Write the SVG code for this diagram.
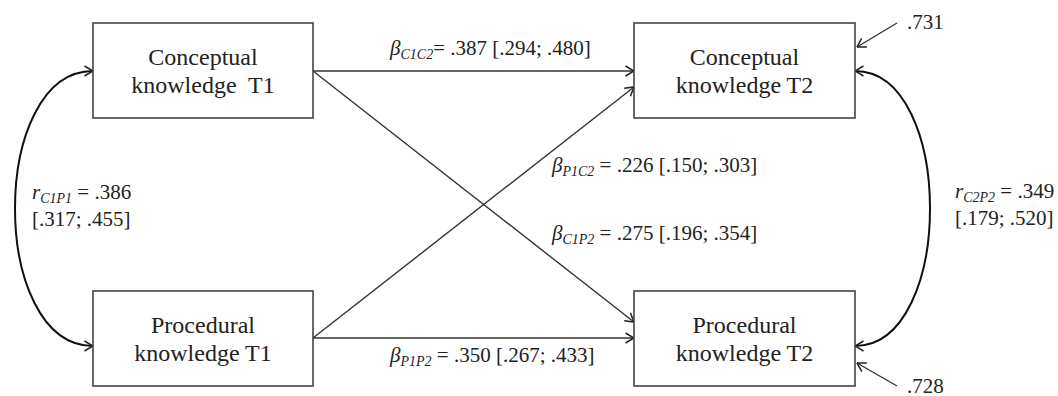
<svg xmlns="http://www.w3.org/2000/svg" width="1058" height="396" viewBox="0 0 1058 396">
  <defs>
    <marker id="arrow" viewBox="0 0 10 12" refX="9.5" refY="6" markerWidth="10" markerHeight="12" markerUnits="userSpaceOnUse" orient="auto-start-reverse">
      <path d="M1,1 L9.5,6 L1,11" fill="none" stroke="#222" stroke-width="1.5"/>
    </marker>
    <style>
      .box { fill: #fff; stroke: #444; stroke-width: 1.6; }
      .node-text { font-family: "Liberation Serif", "Times New Roman", serif; font-size: 24px; fill: #222; text-anchor: middle; }
      .label { font-family: "Liberation Serif", "Times New Roman", serif; font-size: 21px; fill: #222; }
      .it { font-style: italic; }
      .sub { font-style: italic; font-size: 14px; }
      .path { fill: none; stroke: #333; stroke-width: 1.4; marker-end: url(#arrow); }
      .cov { fill: none; stroke: #111; stroke-width: 2; marker-start: url(#arrow); marker-end: url(#arrow); }
    </style>
  </defs>

  <!-- structural paths and correlations -->
  <g id="connectors">
    <line class="path" x1="313" y1="71" x2="634" y2="71"/>
    <line class="path" x1="313" y1="71" x2="634" y2="322"/>
    <line class="path" x1="313" y1="338" x2="634" y2="87"/>
    <line class="path" x1="313" y1="338" x2="634" y2="338"/>
    <path class="cov" d="M93,71 C-11,71 -11,346 93,346"/>
    <path class="cov" d="M855,71 C955,71 955,346 855,346"/>
    <line class="path" x1="897" y1="23" x2="857" y2="47"/>
    <line class="path" x1="897" y1="386" x2="857" y2="363"/>
  </g>

  <g id="node-c1">
    <rect class="box" x="93" y="23" width="220" height="95"/>
    <text class="node-text" x="203" y="65">Conceptual</text>
    <text class="node-text" x="203" y="93" xml:space="preserve">knowledge  T1</text>
  </g>
  <g id="node-c2">
    <rect class="box" x="634" y="23" width="221" height="95"/>
    <text class="node-text" x="744.5" y="65">Conceptual</text>
    <text class="node-text" x="744.5" y="93">knowledge T2</text>
  </g>
  <g id="node-p1">
    <rect class="box" x="93" y="291" width="220" height="95"/>
    <text class="node-text" x="203" y="333">Procedural</text>
    <text class="node-text" x="203" y="361">knowledge T1</text>
  </g>
  <g id="node-p2">
    <rect class="box" x="634" y="291" width="221" height="95"/>
    <text class="node-text" x="744.5" y="333">Procedural</text>
    <text class="node-text" x="744.5" y="361">knowledge T2</text>
  </g>

  <!-- coefficient labels -->
  <g id="labels">
    <text class="label" x="390" y="55"><tspan class="it">β</tspan><tspan class="sub" dy="4">C1C2</tspan><tspan dy="-4">= .387 [.294; .480]</tspan></text>
    <text class="label" x="552" y="172"><tspan class="it">β</tspan><tspan class="sub" dy="4">P1C2</tspan><tspan dy="-4"> = .226 [.150; .303]</tspan></text>
    <text class="label" x="552" y="240"><tspan class="it">β</tspan><tspan class="sub" dy="4">C1P2</tspan><tspan dy="-4"> = .275 [.196; .354]</tspan></text>
    <text class="label" x="390" y="362"><tspan class="it">β</tspan><tspan class="sub" dy="4">P1P2</tspan><tspan dy="-4"> = .350 [.267; .433]</tspan></text>
    <text class="label" x="32" y="199"><tspan class="it">r</tspan><tspan class="sub" dy="4">C1P1</tspan><tspan dy="-4"> = .386</tspan></text>
    <text class="label" x="32" y="226">[.317; .455]</text>
    <text class="label" x="955" y="198"><tspan class="it">r</tspan><tspan class="sub" dy="4">C2P2</tspan><tspan dy="-4"> = .349</tspan></text>
    <text class="label" x="955" y="225">[.179; .520]</text>
    <text class="label" x="907" y="29">.731</text>
    <text class="label" x="907" y="393">.728</text>
  </g>
</svg>
